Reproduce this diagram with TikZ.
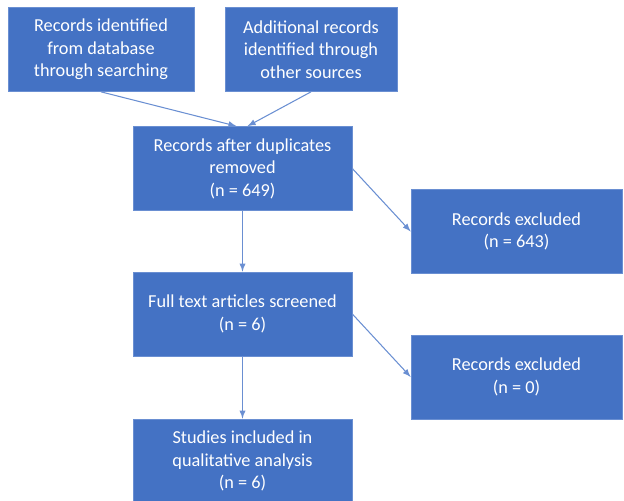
\documentclass[tikz,border=0pt]{standalone}
\usepackage{fontspec}
\setmainfont{Carlito}
\usetikzlibrary{arrows}
\definecolor{boxblue}{HTML}{4472C4}
\definecolor{lineblue}{HTML}{6A8FD2}

\begin{document}
\begin{tikzpicture}[x = 0.02cm, y = -0.02cm,
	box/.style = {fill = boxblue, draw = lineblue, line width = 0.4pt, text = white,
		align = center, inner sep = 0pt, minimum height = 1.68cm,
		font = \fontsize{10.4}{12.8}\selectfont},
	link/.style = {->, > = latex, color = lineblue, line width = 0.6pt}]
	\useasboundingbox (0,0) rectangle (624,500);
	\node [box, minimum width = 3.72cm] (ident) at (101,49.5) {Records identified\\from database\\through searching};
	\node [box, minimum width = 3.44cm] (other) at (311,49.5) {Additional records\\identified through\\other sources};
	\node [box, minimum width = 4.38cm] (dupl) at (242.5,168.5) {Records after duplicates\\removed\\(n = 649)};
	\node [box, minimum width = 4.22cm] (excla) at (516.5,231.5) {Records excluded\\(n = 643)};
	\node [box, minimum width = 4.38cm] (full) at (242.5,314) {Full text articles screened\\(n = 6)};
	\node [box, minimum width = 4.22cm] (exclb) at (516.5,377) {Records excluded\\(n = 0)};
	\node [box, minimum width = 4.38cm] (incl) at (242.5,461) {Studies included in\\qualitative analysis\\(n = 6)};
	\draw [link] (ident.south) -- ([xshift = -0.12cm]dupl.north);
	\draw [link] (other.south) -- ([xshift = 0.1cm]dupl.north);
	\draw [link] (dupl.east) -- (excla.west);
	\draw [link] (dupl.south) -- (full.north);
	\draw [link] (full.east) -- (exclb.west);
	\draw [link] (full.south) -- (incl.north);
\end{tikzpicture}
\end{document}
